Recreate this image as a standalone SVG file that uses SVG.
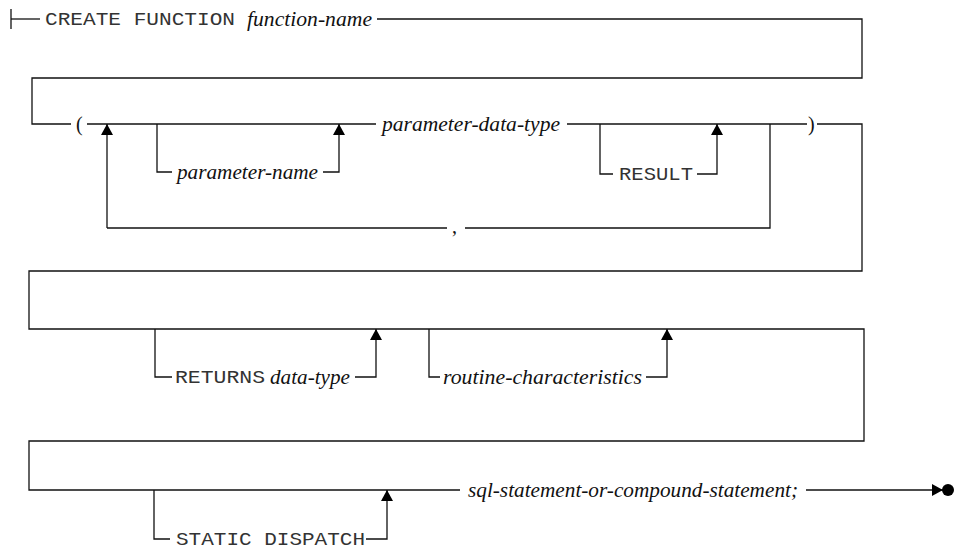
<svg xmlns="http://www.w3.org/2000/svg" width="956" height="549" viewBox="0 0 956 549">
<style>
.ln{fill:none;stroke:#111;stroke-width:1.3}
.mono{font-family:"Liberation Mono","Courier New",monospace;font-size:18px;fill:#333}
.it{font-family:"Liberation Serif","Times New Roman",serif;font-style:italic;font-size:21px;fill:#111}
.pu{font-family:"Liberation Serif","Times New Roman",serif;font-size:20px;fill:#111}
</style>
<defs>
<marker id="arr" viewBox="0 0 11 12" refX="11" refY="6" markerWidth="11" markerHeight="12" markerUnits="userSpaceOnUse" orient="auto">
<path d="M0,0 L11,6 L0,12 Z" fill="#000"/>
</marker>
</defs>
<g id="connectors">
<path class="ln" d="M11,9 V29"/>
<path class="ln" d="M11,19 H40"/>
<path class="ln" d="M377,19 H862 V78 H32 V124 H71"/>
<path class="ln" d="M87,124 H376"/>
<path class="ln" d="M567,124 H807"/>
<path class="ln" d="M817,124 H862 V271 H29 V329 H864 V441 H29 V490 H460"/>
<path class="ln" d="M107,228 V124" marker-end="url(#arr)"/>
<path class="ln" d="M107,228 H447"/>
<path class="ln" d="M465,228 H770 V124"/>
<path class="ln" d="M157,124 V172 H172"/>
<path class="ln" d="M323,172 H339 V124" marker-end="url(#arr)"/>
<path class="ln" d="M600,124 V174 H613"/>
<path class="ln" d="M697,174 H717 V124" marker-end="url(#arr)"/>
<path class="ln" d="M155,329 V377 H172"/>
<path class="ln" d="M355,377 H376 V329" marker-end="url(#arr)"/>
<path class="ln" d="M429,329 V377 H440"/>
<path class="ln" d="M646,377 H667 V329" marker-end="url(#arr)"/>
<path class="ln" d="M154,490 V539 H170"/>
<path class="ln" d="M366,539 H387 V490" marker-end="url(#arr)"/>
<path class="ln" d="M806,490 H943" marker-end="url(#arr)"/>
</g>
<g id="node-create"><text class="mono" x="45" y="25" textLength="190" lengthAdjust="spacingAndGlyphs">CREATE FUNCTION</text></g>
<g id="node-function-name"><text class="it" x="247" y="26" textLength="125" lengthAdjust="spacingAndGlyphs">function-name</text></g>
<g id="node-lparen"><text class="pu" x="76" y="131">(</text></g>
<g id="node-parameter-name"><text class="it" x="177" y="179" textLength="141" lengthAdjust="spacingAndGlyphs">parameter-name</text></g>
<g id="node-parameter-data-type"><text class="it" x="382" y="131" textLength="178" lengthAdjust="spacingAndGlyphs">parameter-data-type</text></g>
<g id="node-result"><text class="mono" x="619" y="180" textLength="74" lengthAdjust="spacingAndGlyphs">RESULT</text></g>
<g id="node-comma"><text class="pu" x="452" y="233">,</text></g>
<g id="node-rparen"><text class="pu" x="808" y="131">)</text></g>
<g id="node-returns"><text class="mono" x="175" y="383" textLength="90" lengthAdjust="spacingAndGlyphs">RETURNS</text><text class="it" x="270" y="384" textLength="80" lengthAdjust="spacingAndGlyphs">data-type</text></g>
<g id="node-routine-characteristics"><text class="it" x="443" y="384" textLength="199" lengthAdjust="spacingAndGlyphs">routine-characteristics</text></g>
<g id="node-static-dispatch"><text class="mono" x="176" y="545" textLength="189" lengthAdjust="spacingAndGlyphs">STATIC DISPATCH</text></g>
<g id="node-sql-statement"><text class="it" x="468" y="497" textLength="330" lengthAdjust="spacingAndGlyphs">sql-statement-or-compound-statement;</text></g>
<g id="node-end"><circle cx="948" cy="490" r="6" fill="#000"/></g>
</svg>
